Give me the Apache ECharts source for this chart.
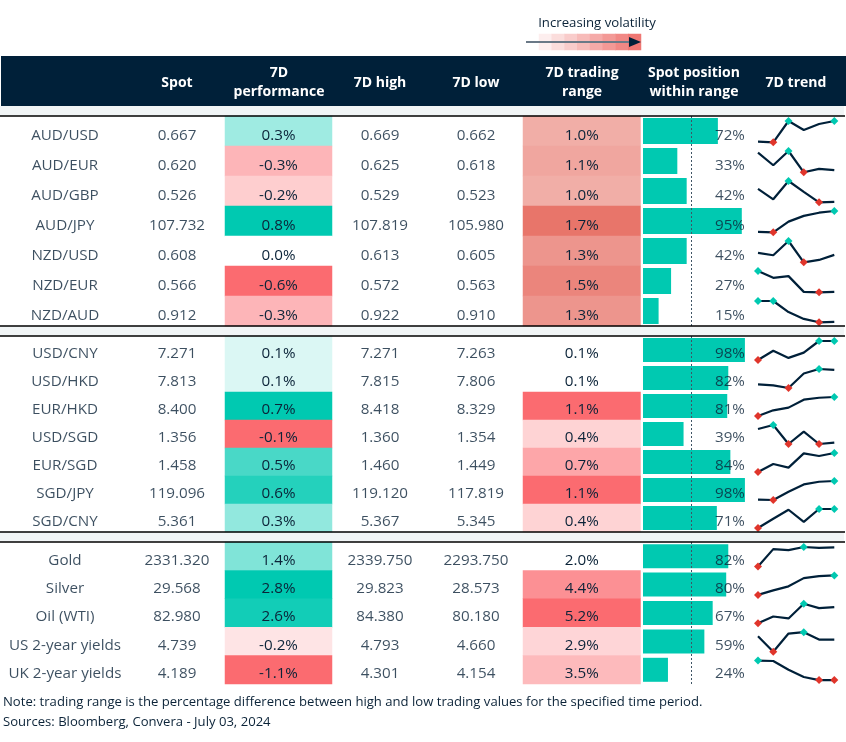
<!DOCTYPE html>
<html><head><meta charset="utf-8">
<style>html,body{margin:0;padding:0;background:#fff}#c{width:846px;height:742px}</style>
<script src="https://cdn.jsdelivr.net/npm/echarts@6/dist/echarts.min.js"></script>
</head><body><div id="c"></div>
<script>
// ---- data ----
const columnHeads = [['Spot'],['7D','performance'],['7D high'],['7D low'],['7D trading','range'],['Spot position','within range'],['7D trend']];
const groupSizes = [7,7,5];
const pairs = ['AUD/USD','AUD/EUR','AUD/GBP','AUD/JPY','NZD/USD','NZD/EUR','NZD/AUD','USD/CNY','USD/HKD','EUR/HKD','USD/SGD','EUR/SGD','SGD/JPY','SGD/CNY','Gold','Silver','Oil (WTI)','US 2-year yields','UK 2-year yields'];
const spot = [0.667,0.620,0.526,107.732,0.608,0.566,0.912,7.271,7.813,8.400,1.356,1.458,119.096,5.361,2331.320,29.568,82.980,4.739,4.189];
const perf = [0.3,-0.3,-0.2,0.8,0.0,-0.6,-0.3,0.1,0.1,0.7,-0.1,0.5,0.6,0.3,1.4,2.8,2.6,-0.2,-1.1];
const high = [0.669,0.625,0.529,107.819,0.613,0.572,0.922,7.271,7.815,8.418,1.360,1.460,119.120,5.367,2339.750,29.823,84.380,4.793,4.301];
const low = [0.662,0.618,0.523,105.980,0.605,0.563,0.910,7.263,7.806,8.329,1.354,1.449,117.819,5.345,2293.750,28.573,80.180,4.660,4.154];
const tradingRange = [1.0,1.1,1.0,1.7,1.3,1.5,1.3,0.1,0.1,1.1,0.4,0.7,1.1,0.4,2.0,4.4,5.2,2.9,3.5];
const position = [72,33,42,95,42,27,15,98,82,81,39,84,98,71,82,80,67,59,24];
const trend = [
 [3,0,100,58,86,100],[92,33,100,0,16,10],[63,14,100,49,0,2],[2,0,50,77,92,100],[44,33,100,0,11,35],[100,68,76,2,0,2],[100,100,48,16,0,2],
 [0,49,11,39,100,100],[19,14,0,76,100,95],[0,30,44,86,96,100],[79,100,0,65,0,7],[0,42,23,98,84,100],[2,0,43,82,96,100],[0,49,96,32,100,100],
 [0,89,84,100,96,98],[0,23,44,86,96,100],[0,35,25,100,78,83],[79,0,93,100,62,62],[100,98,53,16,0,0]];
const legendSteps = [1,2,3,4,5,6,7,8];
const legendTitle = 'Increasing volatility';
const notes = ['Note: trading range is the percentage difference between high and low trading values for the specified time period.','Sources: Bloomberg, Convera - July 03, 2024'];

// ---- layout & style ----
const FONT = 'Open Sans', INK = '#0b2338', NAVY = '#002039', TEAL = [0,201,177], RED = [251,107,112];
const groups = [
 {top:116,pitch:30,barH:26,textDy:5,sparkH:21.3,rangeMin:0,rangeMax:1.7,rangeTop:[232,117,106]},
 {top:336,pitch:28,barH:24,textDy:4,sparkH:19,rangeMin:0.1,rangeMax:1.1,rangeTop:RED},
 {top:542,pitch:28.4,barH:24,textDy:4,sparkH:19.5,rangeMin:2.0,rangeMax:5.2,rangeTop:RED}];
const mix = (c,t)=>{t=Math.max(0,Math.min(1,t));return 'rgb('+c.map(v=>Math.round(255+(v-255)*t)).join(',')+')';};

const grid=[],xAxis=[],yAxis=[],series=[];
function addGrid(g,xa,ya){grid.push(Object.assign({containLabel:false,show:false},g));
 xAxis.push(Object.assign({gridIndex:grid.length-1,show:false},xa));
 yAxis.push(Object.assign({gridIndex:grid.length-1,show:false},ya));
 return grid.length-1;}
const textCols=[[5,120,pairs,v=>v],[117,120,spot,v=>v.toFixed(3)],[320,120,high,v=>v.toFixed(3)],[416,120,low,v=>v.toFixed(3)]];
const lbl={show:true,fontFamily:FONT,fontSize:15.2,color:INK};

let start=0;
groups.forEach((G,gi)=>{
 const n=groupSizes[gi],idx=[...Array(n).keys()],h=G.pitch*n,top=G.top;
 const yCat={type:'category',inverse:true,data:idx.map(i=>pairs[start+i])};
 // plain text columns
 textCols.forEach(([l,w,arr,f])=>{
  const gid=addGrid({left:l,width:w,top:top,height:h},{type:'value',min:0,max:1},yCat);
  series.push({type:'scatter',xAxisIndex:gid,yAxisIndex:gid,symbolSize:0,silent:true,
   data:idx.map(i=>[0.5,i,arr[start+i]]),
   label:Object.assign({},lbl,{position:'inside',offset:[0,G.textDy],formatter:p=>f(p.value[2])})});
 });
 // heat cells
 const maxPos=Math.max(...idx.map(i=>perf[start+i])),maxNeg=Math.max(...idx.map(i=>-perf[start+i]));
 let gid=addGrid({left:225,width:107,top:top,height:h},{type:'category',data:['7D performance']},yCat);
 series.push({type:'heatmap',xAxisIndex:gid,yAxisIndex:gid,silent:true,
  data:idx.map(i=>{const v=perf[start+i];return {value:[0,i,v],itemStyle:{color:v>=0?mix(TEAL,v/maxPos):mix(RED,-v/maxNeg)}};}),
  label:Object.assign({},lbl,{offset:[0,G.textDy],formatter:p=>p.value[2].toFixed(1)+'%'})});
 gid=addGrid({left:523,width:117.5,top:top,height:h},{type:'category',data:['7D trading range']},yCat);
 series.push({type:'heatmap',xAxisIndex:gid,yAxisIndex:gid,silent:true,
  data:idx.map(i=>{const v=tradingRange[start+i];return {value:[0,i,v],itemStyle:{color:mix(G.rangeTop,(v-G.rangeMin)/(G.rangeMax-G.rangeMin))}};}),
  label:Object.assign({},lbl,{offset:[0,G.textDy],formatter:p=>p.value[2].toFixed(1)+'%'})});
 // position bars
 gid=addGrid({left:643,width:104,top:top,height:h},{type:'value',min:0,max:100},yCat);
 series.push({type:'bar',xAxisIndex:gid,yAxisIndex:gid,barWidth:G.barH,silent:true,
  itemStyle:{color:'rgb('+TEAL.join(',')+')'},data:idx.map(i=>position[start+i]),
  markLine:{silent:true,symbol:'none',label:{show:false},animation:false,z:3,
   lineStyle:{color:'#3f5566',type:[2,2],width:1},data:[{xAxis:46.4}]}});
 series.push({type:'scatter',xAxisIndex:gid,yAxisIndex:gid,symbolSize:0,silent:true,z:6,
  data:idx.map(i=>[98,i,position[start+i]]),
  label:Object.assign({},lbl,{position:'inside',align:'right',offset:[0,G.textDy],formatter:p=>p.value[2]+'%'})});
 // sparklines
 idx.forEach(i=>{
  const vals=trend[start+i],mn=Math.min(...vals),mx=Math.max(...vals);
  const s=addGrid({left:758,width:76.3,top:top+i*G.pitch+5,height:G.sparkH},
   {type:'category',boundaryGap:false,data:vals.map((_,k)=>k)},{type:'value',min:0,max:100});
  series.push({type:'line',xAxisIndex:s,yAxisIndex:s,clip:false,silent:true,showSymbol:true,showAllSymbol:true,
   lineStyle:{color:NAVY,width:2.2},animation:false,
   data:vals.map(v=>{
    const isMax=v===mx,isMin=v===mn;
    return {value:v,symbol:'diamond',symbolSize:(isMax||isMin)?8:0,
     itemStyle:{color:isMax?'#00c9b1':isMin?'#e0352b':NAVY,borderWidth:0}};
   })});
 });
 start+=n;
});

// volatility legend steps
const lg=addGrid({left:539,width:102,top:34,height:16},{type:'category',data:legendSteps},{type:'category',data:['legend']});
series.push({type:'heatmap',xAxisIndex:lg,yAxisIndex:lg,silent:true,z:1,
 data:legendSteps.map((v,i)=>({value:[i,0,v],itemStyle:{color:mix([238,112,108],v/8.4)}}))});

// furniture
const gfx=[];
const rect=(x,y,w,h,c)=>gfx.push({type:'rect',z:0,silent:true,shape:{x,y,width:w,height:h},style:{fill:c}});
const hline=(y)=>gfx.push({type:'rect',z:10,silent:true,shape:{x:0,y:y-0.75,width:845,height:1.5},style:{fill:'#000'}});
const text=(x,y,t,o)=>gfx.push({type:'text',z:20,silent:true,x,y,style:Object.assign({text:t,fontFamily:FONT,fontSize:14,fill:INK,textAlign:'left',textVerticalAlign:'middle'},o||{})});
rect(1,56,845,50,NAVY);
[[106,10],[326,10],[532,10]].forEach(([y,h])=>rect(0,y,844,h,'#f1f5f6'));
[116,326,336,532,542].forEach(hline);
const headCenters=[177,279,380,476,582,694,796];
columnHeads.forEach((ls,i)=>{
 const y0=ls.length>1?73:83;
 ls.forEach((t,k)=>text(headCenters[i],y0+k*19.5,t,{fontWeight:'bold',fill:'#fff',textAlign:'center'}));
});
text(597,23.5,legendTitle,{textAlign:'center',fontSize:13.2});
gfx.push({type:'rect',z:15,silent:true,shape:{x:526,y:41,width:105,height:2},style:{fill:'#6a7987'}});
gfx.push({type:'polygon',z:16,silent:true,shape:{points:[[629,37],[641,42],[629,47]]},style:{fill:NAVY}});
text(3,702.5,notes[0],{fontSize:13.1});
text(3,722.5,notes[1],{fontSize:13.1});

echarts.init(document.getElementById('c'),null,{renderer:'canvas'}).setOption({
 animation:false,backgroundColor:'#fff',grid,xAxis,yAxis,series,graphic:{elements:gfx}});
</script></body></html>
